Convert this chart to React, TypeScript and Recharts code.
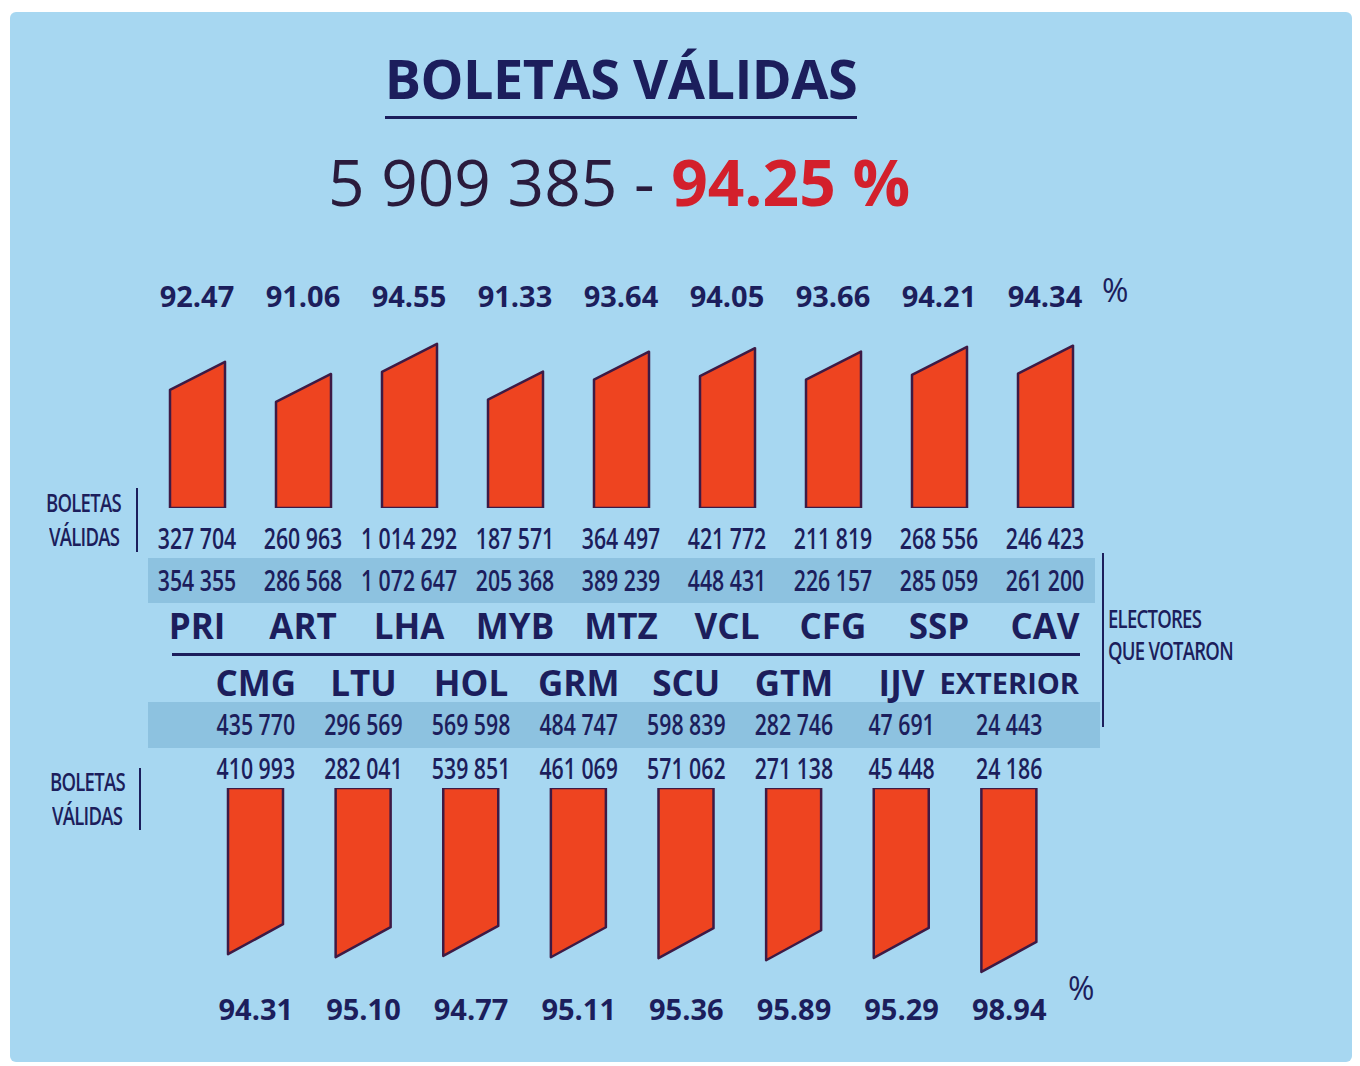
import { BarChart, Bar, XAxis, YAxis } from "recharts";

const topParties = ["PRI", "ART", "LHA", "MYB", "MTZ", "VCL", "CFG", "SSP", "CAV"];
const topPct = [92.47, 91.06, 94.55, 91.33, 93.64, 94.05, 93.66, 94.21, 94.34];
const topValidas = [327704, 260963, 1014292, 187571, 364497, 421772, 211819, 268556, 246423];
const topElectores = [354355, 286568, 1072647, 205368, 389239, 448431, 226157, 285059, 261200];

const bottomParties = ["CMG", "LTU", "HOL", "GRM", "SCU", "GTM", "IJV", "EXTERIOR"];
const bottomElectores = [435770, 296569, 569598, 484747, 598839, 282746, 47691, 24443];
const bottomValidas = [410993, 282041, 539851, 461069, 571062, 271138, 45448, 24186];
const bottomPct = [94.31, 95.1, 94.77, 95.11, 95.36, 95.89, 95.29, 98.94];

const totalValidas = 5909385;
const totalPct = 94.25;

const NAVY = "#1c1e5c";
const BG = "#a7d7f1";
const BAND = "#8dc2e0";
const RED = "#ee4420";
const EDGE = "#3d1a45";

const fmt = (n: number) => n.toString().replace(/\B(?=(\d{3})+(?!\d))/g, " ");

const topData = topParties.map((name, i) => ({
  name,
  pct: topPct[i],
  validas: topValidas[i],
  electores: topElectores[i],
}));

const bottomData = bottomParties.map((name, i) => ({
  name,
  pct: bottomPct[i],
  validas: bottomValidas[i],
  electores: bottomElectores[i],
}));

const NumText = ({ x, y, value }: any) => (
  <text
    transform={`translate(${x},${y}) scale(0.76,1)`}
    textAnchor="middle"
    dominantBaseline="central"
    fill={NAVY}
    fontSize={28}
    fontWeight={600}
    fontFamily="Open Sans"
  >
    {value}
  </text>
);

const NameText = ({ x, y, value }: any) => (
  <text
    x={x}
    y={y}
    textAnchor="middle"
    dominantBaseline="central"
    fill={NAVY}
    fontSize={value.length > 5 ? 29 : 35}
    fontWeight="bold"
    fontFamily="Open Sans"
  >
    {value}
  </text>
);

const PctText = ({ x, y, value }: any) => (
  <text
    x={x}
    y={y}
    textAnchor="middle"
    dominantBaseline="central"
    fill={NAVY}
    fontSize={29}
    fontWeight="bold"
    fontFamily="Open Sans"
  >
    {value}
  </text>
);

// top chart ticks
const TopPctTick = (props: any) => {
  const d = topData[props.payload.index];
  return <PctText x={props.x} y={props.y - 37} value={d.pct.toFixed(2)} />;
};
const TopRowsTick = (props: any) => {
  const d = topData[props.payload.index];
  return (
    <g>
      <NumText x={props.x} y={props.y + 22} value={fmt(d.validas)} />
      <NumText x={props.x} y={props.y + 64} value={fmt(d.electores)} />
      <NameText x={props.x} y={props.y + 109} value={d.name} />
    </g>
  );
};

// bottom chart ticks
const BottomRowsTick = (props: any) => {
  const d = bottomData[props.payload.index];
  return (
    <g>
      <NameText x={props.x} y={props.y - 98} value={d.name} />
      <NumText x={props.x} y={props.y - 56} value={fmt(d.electores)} />
      <NumText x={props.x} y={props.y - 12} value={fmt(d.validas)} />
    </g>
  );
};
const BottomPctTick = (props: any) => {
  const d = bottomData[props.payload.index];
  return <PctText x={props.x} y={props.y + 24} value={d.pct.toFixed(2)} />;
};

const UpShape = (props: any) => {
  const { x, y, width, height } = props;
  const top = Math.min(y, y + height);
  const bot = Math.max(y, y + height);
  const s = 28;
  return (
    <polygon
      points={`${x},${top + s} ${x + width},${top} ${x + width},${bot} ${x},${bot}`}
      fill={RED}
      stroke={EDGE}
      strokeWidth={2.5}
      strokeLinejoin="round"
    />
  );
};

const DownShape = (props: any) => {
  const { x, y, width, height } = props;
  const top = Math.min(y, y + height);
  const bot = Math.max(y, y + height);
  const s = 30;
  return (
    <polygon
      points={`${x},${top} ${x + width},${top} ${x + width},${bot - s} ${x},${bot}`}
      fill={RED}
      stroke={EDGE}
      strokeWidth={2.5}
      strokeLinejoin="round"
    />
  );
};

const abs = (s: any) => ({ position: "absolute" as const, ...s });

const Condensed = ({ left, top, text, size = 25 }: any) => (
  <div
    style={abs({
      left,
      top,
      fontFamily: "Open Sans",
      fontSize: size,
      fontWeight: 600,
      color: NAVY,
      lineHeight: 1,
      transform: "scaleX(0.74)",
      transformOrigin: "left top",
      whiteSpace: "nowrap",
      letterSpacing: -1,
    })}
  >
    {text}
  </div>
);

export default function App() {
  return (
    <div style={abs({ left: 0, top: 0, width: 1360, height: 1066, background: "#fff", overflow: "hidden" })}>
      <div style={abs({ left: 10, top: 12, width: 1342, height: 1050, background: BG, borderRadius: 6 })} />

      {/* title */}
      <div
        style={abs({
          left: 0,
          width: 1242,
          top: 51,
          textAlign: "center",
          fontFamily: "Open Sans",
          fontWeight: "bold",
          fontSize: 54,
          color: NAVY,
          lineHeight: 1,
          letterSpacing: -0.5,
        })}
      >
        <span style={{ borderBottom: `3px solid ${NAVY}`, paddingBottom: 1 }}>BOLETAS VÁLIDAS</span>
      </div>
      <div
        style={abs({
          left: 0,
          width: 1238,
          top: 150,
          textAlign: "center",
          fontFamily: "Open Sans",
          fontSize: 64,
          color: "#2a1b3c",
          lineHeight: 1,
          whiteSpace: "nowrap",
        })}
      >
        {fmt(totalValidas)} -{" "}
        <span style={{ color: "#d3202c", fontWeight: "bold" }}>{totalPct.toFixed(2)} %</span>
      </div>

      {/* bands and rules */}
      <div style={abs({ left: 148, top: 558, width: 947, height: 45, background: BAND })} />
      <div style={abs({ left: 148, top: 702, width: 952, height: 46, background: BAND })} />
      <div style={abs({ left: 172, top: 653, width: 908, height: 3, background: NAVY })} />
      <div style={abs({ left: 1102, top: 553, width: 2, height: 174, background: NAVY })} />
      <div style={abs({ left: 136, top: 488, width: 2, height: 64, background: NAVY })} />
      <div style={abs({ left: 139, top: 768, width: 2, height: 62, background: NAVY })} />

      <Condensed left={46} top={490} text="BOLETAS" />
      <Condensed left={49} top={524} text="VÁLIDAS" />
      <Condensed left={50} top={769} text="BOLETAS" />
      <Condensed left={52} top={803} text="VÁLIDAS" />
      <Condensed left={1108} top={606} text="ELECTORES" />
      <Condensed left={1108} top={638} text="QUE VOTARON" />

      <div style={abs({ left: 1102, top: 274, fontFamily: "Open Sans", fontSize: 32, color: NAVY, lineHeight: 1 })}>%</div>
      <div style={abs({ left: 1068, top: 972, fontFamily: "Open Sans", fontSize: 32, color: NAVY, lineHeight: 1 })}>%</div>

      <div style={abs({ left: 0, top: 260 })}>
        <BarChart width={1360} height={398} data={topData} margin={{ top: 0, right: 262, left: 144, bottom: 0 }}>
          <XAxis
            xAxisId="pct"
            orientation="top"
            dataKey="name"
            height={80}
            axisLine={false}
            tickLine={false}
            interval={0}
            tick={<TopPctTick />}
          />
          <XAxis
            xAxisId="main"
            dataKey="name"
            height={150}
            axisLine={false}
            tickLine={false}
            interval={0}
            tick={<TopRowsTick />}
          />
          <YAxis hide domain={[75.5, 95]} allowDataOverflow />
          <Bar xAxisId="main" dataKey="pct" barSize={55} shape={<UpShape />} isAnimationActive={false} />
        </BarChart>
      </div>

      <div style={abs({ left: 0, top: 640 })}>
        <BarChart width={1360} height={406} data={bottomData} margin={{ top: 0, right: 297, left: 202, bottom: 0 }}>
          <XAxis
            xAxisId="main"
            orientation="top"
            dataKey="name"
            height={148}
            axisLine={false}
            tickLine={false}
            interval={0}
            tick={<BottomRowsTick />}
          />
          <XAxis
            xAxisId="pct"
            dataKey="name"
            height={70}
            axisLine={false}
            tickLine={false}
            interval={0}
            tick={<BottomPctTick />}
          />
          <YAxis hide reversed domain={[51, 100]} allowDataOverflow />
          <Bar xAxisId="main" dataKey="pct" barSize={55} shape={<DownShape />} isAnimationActive={false} />
        </BarChart>
      </div>
    </div>
  );
}
